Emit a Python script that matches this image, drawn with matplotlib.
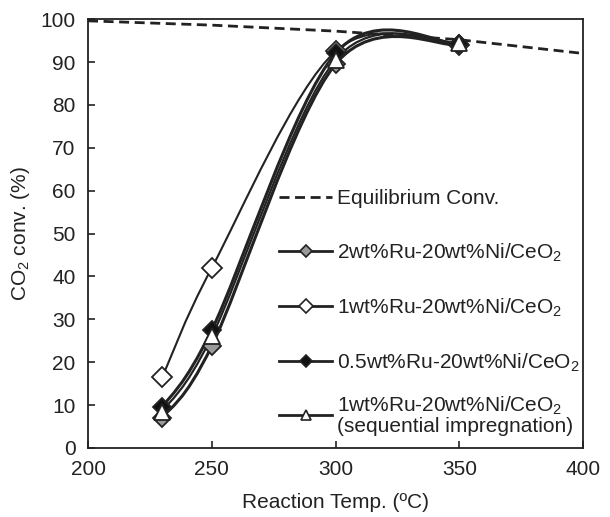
"""CO2 methanation conversion vs reaction temperature for Ru-Ni/CeO2 catalysts."""

import matplotlib

matplotlib.use("Agg")
import matplotlib.pyplot as plt
from matplotlib.lines import Line2D
from matplotlib.patches import PathPatch
from matplotlib.path import Path

TEMPS = [230, 250, 300, 350]
RU2 = [7.0, 23.8, 89.5, 94.0]
RU1 = [16.5, 42.0, 92.5, 94.0]
RU05 = [9.5, 27.5, 92.0, 94.2]
RU1_SEQ = [8.5, 26.0, 90.5, 94.5]

EQ_TEMPS = [200, 250, 300, 350, 400]
EQ_CONV = [99.6, 98.6, 97.2, 95.2, 92.0]

LABELS = [
    "2wt%Ru-20wt%Ni/CeO$_2$",
    "1wt%Ru-20wt%Ni/CeO$_2$",
    "0.5wt%Ru-20wt%Ni/CeO$_2$",
    "1wt%Ru-20wt%Ni/CeO$_2$\n(sequential impregnation)",
]

INK = "#222222"
DASH = (0, (3.6, 2.0))

plt.rcParams["font.family"] = ["Liberation Sans", "DejaVu Sans"]
plt.rcParams["mathtext.fontset"] = "custom"
plt.rcParams["mathtext.rm"] = "Liberation Sans"
plt.rcParams["mathtext.it"] = "Liberation Sans"
plt.rcParams["mathtext.bf"] = "Liberation Sans"

LEGEND_KW = dict(loc="upper left", frameon=False, fontsize=15, handlelength=2.55,
                 handletextpad=0.25, labelspacing=1.58, borderaxespad=0, borderpad=0)


def smooth_path(xs, ys):
    # Excel-style smoothed line: cubic Bezier segments with Catmull-Rom controls
    pts = list(zip(xs, ys))
    verts = [pts[0]]
    codes = [Path.MOVETO]
    for i in range(len(pts) - 1):
        p0 = pts[i - 1] if i > 0 else pts[i]
        p1 = pts[i]
        p2 = pts[i + 1]
        p3 = pts[i + 2] if i + 2 < len(pts) else pts[i + 1]
        c1 = (p1[0] + (p2[0] - p0[0]) / 6, p1[1] + (p2[1] - p0[1]) / 6)
        c2 = (p2[0] - (p3[0] - p1[0]) / 6, p2[1] - (p3[1] - p1[1]) / 6)
        verts += [c1, c2, p2]
        codes += [Path.CURVE4] * 3
    return Path(verts, codes)


fig = plt.figure(figsize=(6.1, 5.17), dpi=100)
ax = fig.add_axes([0.1443, 0.1335, 0.8115, 0.8295])

ax.plot(EQ_TEMPS, EQ_CONV, color=INK, linewidth=2.0, linestyle=DASH, zorder=2)

series = [
    (RU2, "D", "#9a9a9a", 2.2, 9),
    (RU1, "D", "white", 1.5, 10),
    (RU05, "D", "#111111", 2.2, 9),
    (RU1_SEQ, "^", "white", 1.6, 11),
]
handles = [Line2D([0], [0], color=INK, linewidth=2.0, linestyle=DASH)]
for ys, marker, face, lw, ms in series:
    ax.add_patch(PathPatch(smooth_path(TEMPS, ys), facecolor="none", edgecolor=INK, linewidth=lw, zorder=3))
for ys, marker, face, lw, ms in series:
    ax.plot(TEMPS, ys, linestyle="none", marker=marker, markersize=ms,
            markerfacecolor=face, markeredgecolor=INK, markeredgewidth=1.3, zorder=4)
    handles.append(Line2D([0], [0], color=INK, linewidth=2.0, marker=marker, markersize=ms * 0.7,
                          markerfacecolor=face, markeredgecolor=INK, markeredgewidth=1.2))

# the two-line entry gets its own legend so it sits as close as in the original
labels = ["Equilibrium Conv."] + LABELS
leg = ax.legend(handles[:4], labels[:4], bbox_to_anchor=(0.386, 0.603), **LEGEND_KW)
ax.add_artist(leg)
leg2 = ax.legend(handles[4:], labels[4:], bbox_to_anchor=(0.386, 0.125), **LEGEND_KW)
for t in leg.get_texts() + leg2.get_texts():
    t.set_color(INK)
    t.set_linespacing(1.02)

ax.set_xlim(200, 400)
ax.set_ylim(0, 100)
ax.set_xticks([200, 250, 300, 350, 400])
ax.set_yticks(range(0, 101, 10))
ax.tick_params(direction="in", length=5, width=1.2, colors=INK, labelsize=15,
               top=False, right=False, pad=9)
for spine in ax.spines.values():
    spine.set_color(INK)
    spine.set_linewidth(1.3)

ax.set_xlabel("Reaction Temp. (ºC)", fontsize=15, color=INK, labelpad=10)
ax.set_ylabel("CO$_2$ conv. (%)", fontsize=15, color=INK, labelpad=6)

fig.savefig("out.png", dpi=100)
